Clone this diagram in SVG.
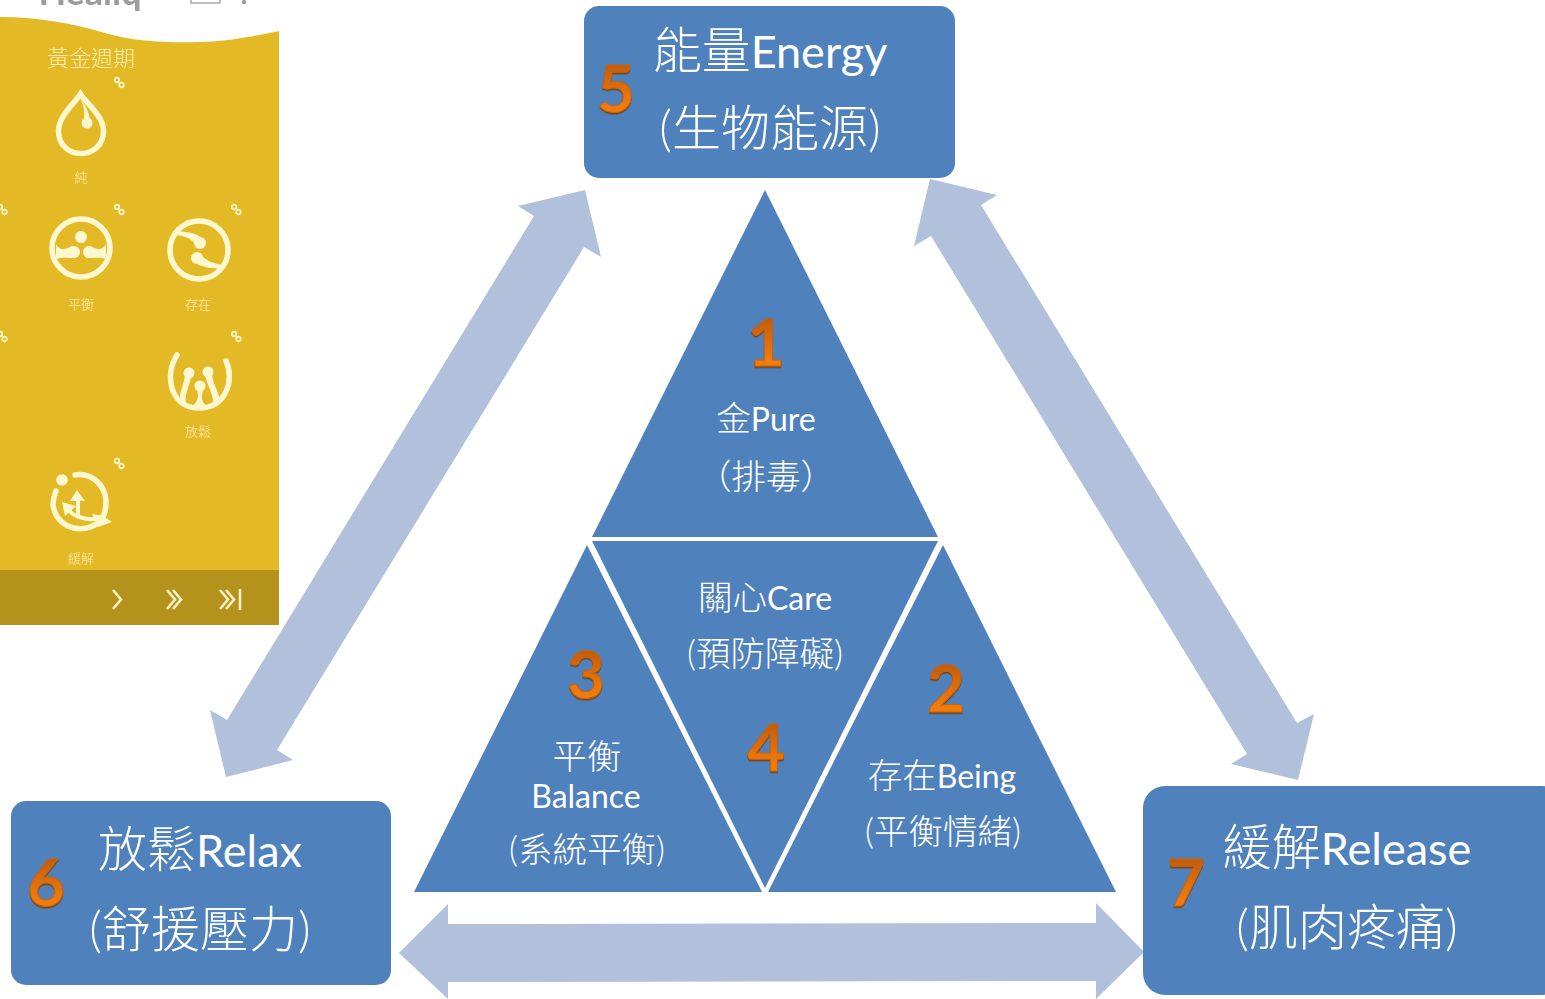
<svg xmlns="http://www.w3.org/2000/svg" xmlns:xlink="http://www.w3.org/1999/xlink" width="1545" height="999" viewBox="0 0 1545 999">
<style>
text{font-family:"Lato","Noto Sans CJK TC",sans-serif;text-anchor:middle}
.box,.tri{fill:#4F81BD}
.arr{fill:#B1C0DB}
.big{font-size:49px;fill:#fff;font-weight:300}
.big .la{font-size:45px;font-weight:400}
.mid{font-size:34.500px;fill:#fff;font-weight:300}
.mid .la{font-size:32px;font-weight:400}
.num{font-size:65px;font-weight:700;font-style:normal;fill:url(#org);stroke:#C9640A;stroke-width:1;filter:url(#sh)}
.ln{fill:none;stroke:#FDF8CF;stroke-width:5.500;stroke-linecap:round}
.tl{fill:#FDF8CF;stroke:none}
.dot{fill:#FDF8CF}
.lab{font-size:13px;fill:#F3E08C}
.chev{fill:none;stroke:#FBF3C4;stroke-width:2.600}
</style>
<defs>
<linearGradient id="org" x1="0" y1="0" x2="0" y2="1"><stop offset="0.1" stop-color="#B9560A"/><stop offset="0.75" stop-color="#F07C10"/></linearGradient>
<filter id="sh" x="-20%" y="-20%" width="140%" height="140%"><feDropShadow dx="0" dy="1.500" stdDeviation="0.700" flood-color="#7A3A05" flood-opacity="0.900"/></filter>
<filter id="soft"><feGaussianBlur stdDeviation="0.550"/></filter>
<g id="sm"><circle cx="-2" cy="-3" r="2.300" fill="none" stroke="#FDF8CF" stroke-width="1.700"/><circle cx="2.500" cy="2" r="2.300" fill="none" stroke="#FDF8CF" stroke-width="1.700"/></g>
</defs>
<rect width="1545" height="999" fill="#fff"/>
<g id="screenshot" filter="url(#soft)">
<text x="90" y="5" style="font-size:36px;font-weight:700" fill="#9A9C9E">Healiq</text>
<rect x="191" y="-8" width="29" height="11" fill="#fff" stroke="#A8AAAC" stroke-width="1.500"/>
<circle cx="244" cy="2" r="2.200" fill="#9A9C9E"/>
<path d="M0,17 C40,17 75,24 105,33 C135,42 170,43 200,42 C230,41 255,36 279,31 V625 H0 Z" fill="#E3B928"/>
<rect x="0" y="570" width="279" height="55" fill="#B5921F"/>
<text x="91" y="66" style="font-size:22px;font-weight:300" fill="#F8EDAE">黃金週期</text>
<use xlink:href="#sm" x="119" y="83"/><use xlink:href="#sm" x="119" y="210"/><use xlink:href="#sm" x="236" y="210"/><use xlink:href="#sm" x="2" y="210"/><use xlink:href="#sm" x="236" y="337"/><use xlink:href="#sm" x="2" y="337"/><use xlink:href="#sm" x="119" y="464"/>
<path class="ln" d="M80.500,94 C74,104 58.500,116 58.500,131 C58.500,145 69,153.500 81,153.500 C93,153.500 103.500,145 103.500,131 C103.500,116 87,104 80.500,94 Z"/>
<path class="tl" d="M80,99 C85,104 89,112 90,120 L84,120 C85,112 84,105 80,99 Z"/><circle class="dot" cx="87" cy="123" r="5.500"/>
<circle class="ln" cx="81" cy="248" r="29"/>
<circle class="dot" cx="81" cy="237" r="6"/><circle class="dot" cx="74" cy="252" r="6"/><circle class="dot" cx="89" cy="252" r="6"/>
<path class="dot" d="M56,244 C60,252 66,249 72,246 L76,258 C70,258 62,257 56,259 Z M106,244 C102,252 96,249 90,246 L86,258 C92,258 100,257 106,259 Z"/>
<circle class="ln" cx="199" cy="250" r="29"/>
<circle class="dot" cx="200" cy="243" r="6"/><circle class="dot" cx="197" cy="258" r="6"/>
<path class="tl" d="M176,231 C186,232 196,232 203,239 L197,247 C194,240 186,236 176,235 Z M222,269 C212,268 200,268 193,261 L200,253 C204,260 212,263 223,265 Z"/>
<path class="ln" d="M177,355 C164,375 170,408 199,408 C226,408 235,380 226,361"/>
<circle class="dot" cx="189" cy="373" r="5.500"/><circle class="dot" cx="208" cy="372" r="5.500"/><circle class="dot" cx="200" cy="386" r="5.500"/>
<path class="tl" d="M185,375 L191,376 C190,386 184,394 186,404 L180,400 C179,392 184,385 185,375 Z M205,375 L212,374 C213,386 220,392 219,400 L213,404 C214,394 207,386 205,375 Z M197,388 H203 L202,396 C201,400 204,404 208,408 H191 C195,404 198,400 198,396 Z"/>
<circle class="dot" cx="62" cy="480" r="5.800"/>
<path class="ln" d="M75,475 C92,472 106,486 106,502 C106,516 100,524 90,527 C76,532 56,526 53,505 C53,500 54,496 56,491"/>
<path class="ln" d="M78,498 V514 M67,508 C72,516 84,520 94,519" style="stroke-width:4"/>
<path class="dot" d="M77,490 L85,501 H70 Z M62,502 L76,506 L65,516 Z M92,514 L103,516 L112,522 L98,527 Z"/>
<text class="lab" x="81" y="182">純</text>
<text class="lab" x="81" y="309">平衡</text>
<text class="lab" x="198" y="309">存在</text>
<text class="lab" x="198" y="436">放鬆</text>
<text class="lab" x="81" y="563">緩解</text>
<path class="chev" d="M113,590 L121,599.500 L113,609"/>
<path class="chev" d="M167,590 L175,599.500 L167,609 M173,590 L181,599.500 L173,609"/>
<path class="chev" d="M220,590 L228,599.500 L220,609 M226,590 L234,599.500 L226,609 M240,589 V610"/>
</g>
<g id="connectors">
<path class="arr" d="M585,190 L601,257 L584,247 L277,750 L293,760 L226,777 L210,710 L227,720 L534,216 L518,206 Z"/>
<path class="arr" d="M930,179 L997,195 L981,205 L1297,723 L1314,714 L1298,780 L1231,764 L1247,754 L931,236 L914,246 Z"/>
<path class="arr" d="M399,953 L448,904 V924 L1096,923 V903 L1144,952 L1096,999 V981 L448,982 V999 Z"/>
</g>
<g id="node-5"><rect class="box" x="584" y="6" width="371" height="172" rx="15"/>
<text class="big" x="770" y="68">能量<tspan class="la">Energy</tspan></text><text class="big" x="770" y="146">(生物能源)</text>
<text class="num" x="616" y="112">5</text></g>
<g id="node-6"><rect class="box" x="11" y="801" width="380" height="184" rx="15"/>
<text class="big" x="200" y="867">放鬆<tspan class="la">Relax</tspan></text><text class="big" x="200" y="947">(舒援壓力)</text>
<text class="num" x="46" y="906">6</text></g>
<g id="node-7"><rect class="box" x="1143" y="786" width="420" height="209" rx="22"/>
<text class="big" x="1347" y="865">緩解<tspan class="la">Release</tspan></text><text class="big" x="1347" y="945">(肌肉疼痛)</text>
<text class="num" x="1186" y="906">7</text></g>
<g id="node-1"><path class="tri" d="M765,190 L938,537 H592 Z"/>
<text class="mid" x="766" y="431">金<tspan class="la">Pure</tspan></text><text class="mid" x="766" y="489">（排毒）</text>
<text class="num" x="766" y="366">1</text></g>
<g id="node-4"><path class="tri" d="M592,541 H938 L765,888 Z"/>
<text class="mid" x="765" y="610">關心<tspan class="la">Care</tspan></text><text class="mid" x="765" y="666">(預防障礙)</text>
<text class="num" x="766" y="771">4</text></g>
<g id="node-3"><path class="tri" d="M587,545 L762,892 H414 Z"/>
<text class="mid" x="587" y="769">平衡</text><text class="mid" x="586" y="808"><tspan class="la">Balance</tspan></text><text class="mid" x="587" y="862">(系統平衡)</text>
<text class="num" x="586" y="698">3</text></g>
<g id="node-2"><path class="tri" d="M943,545 L1116,892 H768 Z"/>
<text class="mid" x="942" y="788">存在<tspan class="la">Being</tspan></text><text class="mid" x="943" y="844">(平衡情緒)</text>
<text class="num" x="946" y="712">2</text></g>
</svg>
